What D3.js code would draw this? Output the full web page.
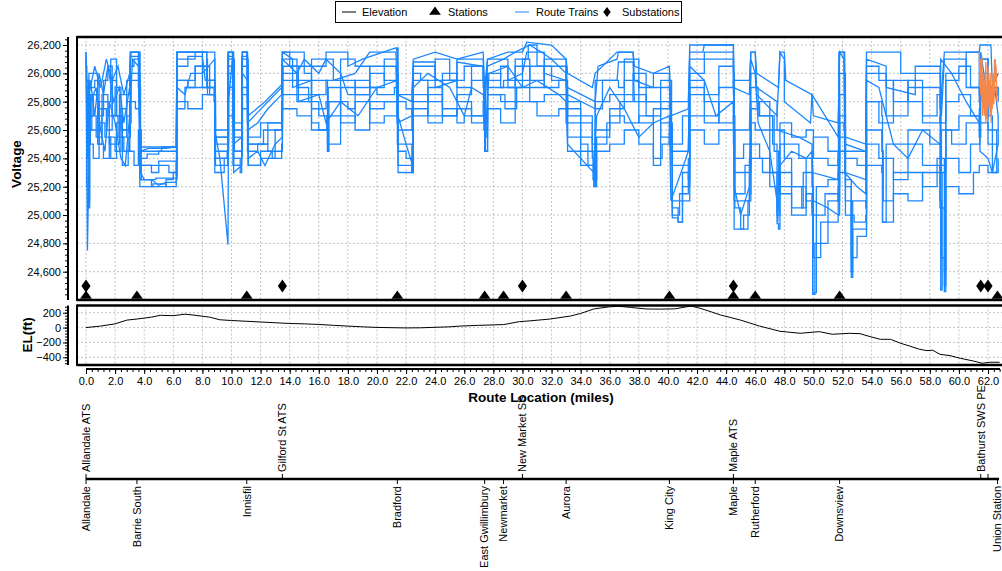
<!DOCTYPE html>
<html><head><meta charset="utf-8">
<script src="https://cdn.jsdelivr.net/npm/d3@7"></script>
<style>
html,body{margin:0;padding:0;background:#fff;}
svg{display:block;font-family:"Liberation Sans",Arial,sans-serif;}
</style></head><body>
<svg id="c" width="1002" height="571"></svg>
<script>
// ---------------- DATA ----------------
const voltTicks = [24600,24800,25000,25200,25400,25600,25800,26000,26200];
const elevTicks = [-400,-200,0,200];
const mileTicks = d3.range(0, 62.01, 2);

const stationNames = ["Allandale","Barrie South","Innisfil","Bradford","East Gwillimbury","Newmarket","Aurora","King City","Maple","Rutherford","Downsview","Union Station"];
const stationMiles = [0.0,3.5,11.05,21.4,27.4,28.7,33.0,40.1,44.5,46.0,51.8,62.65];

const substationNames = ["Allandale ATS","Gilford St ATS","New Market SS","Maple ATS","Bathurst SWS PE",""];
const substationMiles = [0.0,13.5,30.0,44.5,61.5,62.0];

const elevation = [[0,0],[1,20],[2,50],[2.8,100],[3.5,115],[4.5,140],[5.1,165],[6,160],[6.8,180],[7.3,170],[8.5,140],[9.2,105],[10,95],[11,85],[12,75],[13,65],[14,55],[15,50],[16,42],[17,30],[18,20],[19,10],[20,2],[22,-5],[23,-3],[25,10],[25.7,20],[27,30],[28.7,40],[29.8,80],[30.5,90],[31.9,115],[33.3,155],[34,190],[34.9,250],[36,280],[36.7,285],[37.5,270],[38.5,250],[39.5,248],[40.5,252],[41.3,280],[41.6,290],[42.2,260],[43,210],[43.6,170],[45,100],[46.3,20],[47.7,-50],[49.1,-77],[50.4,-55],[51.3,-90],[52.5,-77],[53.2,-82],[53.9,-122],[54.6,-158],[55.3,-158],[56,-212],[56.6,-248],[57.3,-292],[57.8,-310],[58.2,-305],[58.7,-360],[59.4,-378],[60.1,-413],[61,-450],[61.6,-480],[62.1,-467],[62.8,-467]];

const train1 = [[0,26150],[0.1,25800],[0.3,25950],[0.6,25700],[0.9,26000],[1.2,25850],[1.5,26050],[1.9,25800],[2.3,25900],[2.6,25650],[3.0,25900],[3.1,26150],[3.6,26150],[3.7,25450],[5.2,25450],[5.2,25480],[6.2,25480],[6.25,26150],[8.3,26150],[8.3,25950],[8.85,25950],[8.85,25550],[9.75,25550],[9.8,26150],[10.1,26150],[10.1,25600],[10.7,25600],[10.75,26150],[11.05,26150],[11.1,25650],[13.45,25900],[13.5,26150],[14.2,26100],[14.2,25900],[15.5,25950],[15.5,26100],[17.0,26100],[17.0,25950],[18.5,26000],[19.5,26150],[21.3,26150],[21.4,25850],[22.4,25800],[22.5,26050],[24.0,26050],[24.0,25900],[25.5,25950],[25.5,26100],[27.3,26100],[27.4,25800],[27.6,26050],[28.7,26100],[29.5,26150],[30.5,26200],[31.3,26150],[32.0,26100],[33.0,26000],[33.1,25900],[35.0,25800],[35.2,26050],[36.5,26100],[36.6,26150],[37.6,26150],[37.7,25950],[39.0,25900],[40.1,25900],[40.2,25700],[41.4,25750],[41.5,26150],[42.4,26150],[42.5,26200],[44.5,26200],[44.5,25900],[45.6,25850],[45.7,26150],[46.0,26150],[46.1,25850],[47.5,25700],[47.7,26150],[48.0,26100],[48.0,25800],[49.8,25650],[49.9,25850],[51.7,25550],[51.8,26150],[52.1,26100],[52.2,25500],[53.6,25450],[53.65,26100],[55.0,26050],[55.0,25900],[57.0,25850],[57.0,26050],[58.7,26050],[58.8,25700],[59.0,26100],[60.5,26100],[60.5,25900],[61.4,25900],[61.5,26150],[62.0,25800],[62.4,25950],[62.7,25700]];
const train2 = [[0,25900],[0.15,25100],[0.25,25700],[0.5,25850],[0.8,25500],[1.1,25750],[1.4,25600],[1.8,25950],[2.1,25700],[2.5,25550],[2.8,25800],[3.0,25450],[3.3,25350],[3.6,25600],[3.8,25250],[4.5,25200],[5.5,25250],[6.0,25300],[6.2,25350],[6.25,25950],[7.0,25900],[7.5,26050],[8.4,26050],[8.5,25850],[8.85,25800],[8.85,25400],[9.7,25450],[9.75,26100],[10.1,26100],[10.1,25350],[10.6,25400],[10.7,26100],[11.05,26100],[11.1,25450],[11.8,25500],[12.5,25450],[13.0,25600],[13.45,25650],[13.5,26000],[14.5,25900],[15.3,25800],[16.0,25700],[16.6,25450],[16.7,25800],[18.0,25750],[18.5,25900],[20.0,25850],[21.2,25900],[21.4,25500],[22.4,25300],[22.5,25800],[23.5,25850],[24.5,25700],[25.5,25850],[26.5,25950],[27.3,25900],[27.45,25450],[27.6,25900],[28.7,25950],[29.5,26050],[30.5,25950],[31.5,26050],[33.0,25900],[33.1,25700],[34.0,25550],[34.8,25400],[34.9,25200],[35.0,25600],[36.0,25750],[37.0,25850],[38.5,25700],[39.5,25800],[40.2,25650],[40.3,25050],[40.7,24950],[41.0,25300],[41.4,25250],[41.5,25900],[42.5,25800],[43.5,25650],[44.5,25700],[44.6,25150],[45.3,25350],[45.7,25650],[46.0,25600],[47.0,25300],[47.5,25000],[47.7,25500],[49.0,25400],[49.9,25300],[49.95,24450],[50.2,25200],[51.0,25250],[51.7,25300],[51.8,25700],[52.2,25200],[52.6,24560],[52.7,25100],[53.6,25050],[53.65,25800],[54.7,25700],[54.75,24950],[55.0,25500],[56.5,25600],[58.0,25500],[58.7,25400],[59.0,24460],[59.1,25600],[60.0,25700],[61.4,25550],[61.5,26100],[62.0,25700],[62.3,25300],[62.6,25600]];
const train3 = [[0,26100],[0.05,25400],[0.1,24750],[0.2,25350],[0.3,25800],[0.7,25900],[1.0,25600],[1.3,25450],[1.6,25800],[2.0,25650],[2.4,25400],[2.7,25350],[3.0,25700],[3.2,26100],[3.6,26050],[3.75,25300],[4.0,25250],[4.5,25250],[5.0,25210],[5.5,25230],[6.2,25230],[6.25,25900],[6.8,25850],[7.2,26000],[8.0,26000],[8.85,26100],[8.85,25600],[9.2,25400],[9.76,24790],[9.8,25800],[10.1,26150],[10.15,25300],[10.7,25350],[10.75,26000],[11.1,25950],[11.15,25400],[11.8,25450],[12.3,25350],[13.0,25500],[13.5,25550],[13.55,26050],[14.6,26050],[14.6,25800],[16.0,25850],[16.5,25650],[17.5,25800],[18.7,25700],[20.0,25900],[21.4,25950],[21.45,25700],[22.0,25500],[22.45,25350],[22.5,25900],[23.5,26000],[25.0,25900],[26.0,25700],[26.5,25900],[27.3,25850],[27.5,25650],[27.7,26000],[29.0,26050],[30.0,25900],[31.0,25950],[32.5,25850],[33.0,25800],[33.1,25500],[34.0,25400],[34.9,25300],[35.1,25700],[36.0,25900],[37.0,25750],[38.0,25550],[39.0,25650],[40.1,25700],[40.2,25100],[40.9,25300],[41.4,25450],[41.5,26050],[42.5,25950],[43.3,25700],[44.5,25800],[44.55,25200],[45.0,25000],[45.6,25200],[45.7,26100],[46.0,26000],[46.2,25650],[47.0,25450],[47.5,25100],[47.55,24950],[47.7,25350],[48.5,25450],[49.5,25400],[49.9,25450],[50.0,25100],[51.0,25050],[51.7,25000],[51.75,26150],[52.1,26150],[52.15,25300],[53.0,25200],[53.6,25150],[53.65,25950],[54.5,25900],[55.5,25500],[56.5,25400],[57.5,25600],[58.7,25500],[58.75,26100],[59.5,26000],[60.5,25800],[61.4,25650],[61.45,25450],[62.0,25400],[62.3,25300],[62.7,25500]];
const train4 = [[0,25950],[0.2,25600],[0.4,25850],[0.8,25750],[1.2,25950],[1.5,26050],[1.8,25700],[2.2,25550],[2.6,25450],[2.9,25550],[3.05,26150],[3.5,26150],[3.7,25400],[4.2,25430],[5.0,25450],[6.2,25450],[6.25,26100],[7.5,26150],[8.3,26100],[8.35,25850],[8.85,25850],[8.9,25350],[9.7,25350],[9.75,26150],[10.15,26100],[10.2,25450],[10.7,25500],[10.75,26150],[11.1,26100],[11.15,25550],[12.0,25650],[13.45,25800],[13.5,26150],[14.0,26050],[15.0,26000],[15.5,25850],[16.5,25950],[17.5,26100],[18.5,26050],[19.5,25900],[20.5,26100],[21.3,26100],[21.4,26180],[21.45,25800],[22.0,25750],[22.4,25600],[22.5,26000],[23.0,25950],[24.0,26100],[25.0,25950],[26.0,26050],[27.3,25950],[27.35,25600],[27.6,25950],[28.5,26050],[29.0,25900],[30.0,26100],[30.4,26200],[31.0,26050],[32.0,25950],[33.0,26050],[33.05,25800],[34.0,25700],[34.8,25500],[35.0,25750],[35.5,25950],[36.6,25900],[37.0,26100],[38.0,25900],[39.0,26000],[40.1,25950],[40.25,25500],[41.0,25700],[41.45,25600],[41.5,26100],[43.0,26100],[44.5,26000],[44.55,25400],[45.2,25500],[45.7,25750],[46.2,25800],[47.0,25600],[48.0,25400],[48.5,25200],[49.2,25050],[49.5,25400],[50.0,25550],[51.0,25450],[51.7,25350],[51.8,26000],[52.2,25400],[53.0,25350],[53.6,25300],[53.65,26050],[54.5,25950],[55.5,25800],[56.5,25950],[57.5,25700],[58.5,25850],[58.7,25750],[58.75,24470],[58.85,25300],[59.1,25950],[60.0,26050],[60.8,25900],[61.4,25800],[61.45,26100],[62.0,25900],[62.7,25800]];
const train5 = [[0,26050],[0.05,25200],[0.15,25050],[0.25,25900],[0.6,25950],[0.9,25500],[1.2,25400],[1.6,25550],[2.0,25450],[2.4,25750],[2.8,25950],[3.0,26050],[3.3,26100],[3.65,26000],[3.7,25350],[4.5,25300],[5.0,25350],[5.7,25300],[6.2,25280],[6.25,25750],[6.8,25900],[7.5,25900],[8.5,25950],[8.85,25900],[8.85,25450],[9.75,25500],[9.8,26000],[10.1,25950],[10.15,25450],[10.7,25450],[10.75,25900],[11.1,25800],[11.15,25500],[12.5,25650],[13.45,25750],[13.5,25950],[14.5,25850],[15.5,25650],[16.0,25600],[16.55,25700],[17.5,25900],[18.5,25950],[19.5,25750],[20.5,25800],[21.4,25700],[21.45,25450],[22.0,25400],[22.45,25500],[22.5,25850],[23.5,25700],[24.5,25950],[25.5,25800],[26.5,25700],[27.35,25650],[27.6,25850],[28.5,25800],[29.5,25950],[30.5,26050],[31.5,25900],[32.5,25950],[33.0,25750],[33.1,25550],[34.0,25450],[34.85,25250],[35.0,25500],[35.8,25650],[36.7,25800],[37.6,26000],[38.5,25800],[39.5,25550],[40.1,25500],[40.3,25000],[40.8,25150],[41.4,25400],[41.5,25850],[42.5,25700],[43.5,25900],[44.5,25950],[44.55,24900],[45.2,25000],[45.6,25300],[45.7,25800],[46.3,25700],[47.2,25500],[47.5,25300],[47.7,25200],[48.5,25050],[49.3,25300],[49.9,25200],[50.0,25000],[50.8,25150],[51.7,25100],[51.8,25650],[52.1,25600],[52.2,25000],[52.8,24950],[53.6,25000],[53.65,25600],[54.7,25450],[54.8,25100],[55.5,25300],[56.5,25500],[57.5,25350],[58.7,25300],[58.8,25600],[59.5,25500],[60.5,25650],[61.4,25700],[61.45,25900],[62.0,25600],[62.7,25700]];
const train6 = [[0,25850],[0.3,25850],[0.3,25600],[0.9,25600],[0.9,25800],[1.6,25800],[1.6,25500],[2.3,25500],[2.3,25850],[3.0,25850],[3.05,26120],[3.6,26120],[3.7,25450],[4.3,25470],[5.5,25470],[6.2,25480],[6.25,26050],[7.0,26050],[7.0,26120],[8.0,26120],[8.2,25950],[8.85,25950],[8.9,25500],[9.75,25500],[9.78,26120],[10.12,26120],[10.15,25500],[10.7,25550],[10.72,26120],[11.08,26120],[11.12,25600],[11.8,25650],[12.5,25750],[13.45,25850],[13.5,26100],[14.5,26000],[15.0,26100],[16.0,26000],[16.5,26100],[17.5,26000],[18.0,25850],[19.5,25850],[19.5,26050],[21.3,26050],[21.4,25650],[22.4,25700],[22.5,26080],[24.0,26080],[24.0,25950],[25.5,25950],[25.5,26080],[27.3,26050],[27.4,25750],[27.6,26100],[29.0,26100],[29.0,25950],[30.0,26000],[30.3,26150],[31.5,26150],[31.5,26000],[33.0,25950],[33.1,25850],[35.0,25750],[35.0,25950],[36.5,25950],[36.6,26080],[37.6,26080],[37.7,25800],[39.5,25800],[39.5,25950],[40.1,25950],[40.2,25450],[41.4,25450],[41.5,26000],[42.5,26000],[42.5,26150],[44.5,26150],[44.55,25600],[45.6,25600],[45.7,26000],[46.0,26000],[46.1,25900],[47.5,25800],[47.5,25600],[49.0,25550],[49.9,25500],[49.95,25300],[51.7,25250],[51.75,25550],[52.2,25550],[52.2,25300],[53.6,25250],[53.65,26000],[55.0,26000],[55.0,25700],[56.5,25700],[56.5,25900],[58.7,25900],[58.75,25650],[59.1,25650],[59.1,26000],[60.5,26000],[60.5,26150],[61.4,26150],[61.4,25850],[62.7,25850]];
const train7 = [[0,25800],[0.1,25600],[0.2,26000],[0.5,26000],[0.8,25700],[1.2,25800],[1.7,26100],[2.0,26100],[2.1,25700],[2.5,25600],[3.0,25650],[3.1,25950],[3.5,25950],[3.7,25250],[4.8,25260],[6.2,25260],[6.25,26150],[8.0,26150],[8.0,25900],[8.8,25800],[8.85,25300],[9.5,25400],[9.75,25350],[9.78,25900],[10.1,26100],[10.15,25350],[10.6,25300],[10.7,25850],[11.1,25700],[11.15,25350],[12.0,25450],[12.8,25400],[13.45,25500],[13.5,25850],[14.5,25800],[15.5,25950],[16.6,25450],[16.65,25900],[17.5,25650],[18.5,25800],[19.5,25650],[20.5,25700],[21.4,25800],[21.45,25300],[22.4,25400],[22.5,25700],[23.5,25900],[24.5,25750],[25.5,25650],[26.0,25700],[27.3,25800],[27.4,25450],[27.6,25850],[28.8,25750],[29.6,25900],[30.5,25800],[31.5,25850],[33.0,25850],[33.1,25650],[34.0,25500],[34.5,25350],[35.0,25200],[35.1,25550],[36.0,25700],[37.0,25650],[38.0,25700],[39.0,25400],[39.6,25500],[40.1,25600],[40.3,24980],[40.7,24950],[41.0,25200],[41.4,25200],[41.5,25700],[42.5,25650],[43.5,25800],[44.5,25600],[44.6,25050],[45.0,24900],[45.5,25100],[45.7,25500],[46.3,25400],[47.0,25200],[47.5,24940],[47.6,24900],[47.7,25300],[48.5,25200],[49.5,25100],[49.9,25050],[49.95,24440],[50.1,24800],[51.0,25100],[51.7,25200],[51.8,25450],[52.2,25250],[52.6,24600],[52.7,24900],[53.6,24900],[53.65,25500],[54.5,25400],[55.5,25250],[56.5,25300],[57.5,25200],[58.5,25400],[58.7,25050],[59.0,24600],[59.1,25400],[60.0,25300],[60.8,25500],[61.4,25500],[61.45,25650],[62.0,25500],[62.7,25600]];
const train8 = [[0,26150],[0.05,25700],[0.2,25850],[0.6,26050],[1.0,25900],[1.4,26100],[1.8,25950],[2.2,26050],[2.6,25850],[3.0,26000],[3.05,26150],[3.7,26150],[3.75,25480],[6.2,25480],[6.25,26150],[8.85,26150],[8.9,25600],[9.75,25600],[9.8,26150],[10.1,26150],[10.15,25650],[10.7,25650],[10.75,26150],[11.1,26150],[11.15,25700],[12.3,25800],[13.45,25920],[13.5,26150],[15.0,26150],[15.0,26050],[16.5,26050],[16.5,26150],[18.0,26150],[18.0,26050],[19.0,26100],[21.3,26180],[21.4,26150],[21.45,25850],[22.4,25850],[22.5,26100],[24.0,26150],[25.5,26100],[27.3,26150],[27.4,25900],[27.6,26100],[29.0,26150],[30.0,26150],[30.3,26220],[32.0,26200],[33.0,26100],[33.1,26000],[34.8,25900],[35.0,26000],[36.5,26150],[37.6,26150],[37.7,26050],[39.0,26000],[40.1,26050],[40.2,25800],[41.4,25800],[41.5,26200],[44.5,26200],[44.55,25950],[45.6,25950],[45.7,26150],[46.0,26150],[46.1,26000],[47.6,25900],[47.7,26150],[48.0,26150],[48.1,25950],[49.9,25850],[50.0,25700],[51.7,25650],[51.8,26150],[52.15,26150],[52.2,25550],[53.6,25500],[53.65,26150],[56.0,26150],[56.0,26000],[58.7,26000],[58.75,25800],[59.0,26150],[61.4,26150],[61.45,26200],[62.2,26200],[62.3,25900],[62.7,26000]];
const train9 = [[0,25700],[0.1,25400],[0.2,25500],[0.5,25400],[0.9,25650],[1.3,25550],[1.7,25400],[2.1,25650],[2.5,25350],[2.9,25450],[3.0,25800],[3.4,25750],[3.7,25200],[4.6,25220],[5.5,25200],[6.2,25250],[6.25,25800],[7.0,25750],[8.0,25850],[8.85,25800],[8.9,25400],[9.75,25400],[9.78,25700],[10.1,25700],[10.15,25400],[10.7,25420],[10.75,25750],[11.1,25650],[11.15,25350],[12.0,25400],[13.0,25450],[13.45,25450],[13.5,25750],[14.5,25700],[15.5,25600],[16.6,25500],[17.5,25700],[18.5,25600],[19.5,25800],[21.4,25650],[21.45,25350],[22.45,25300],[22.5,25750],[23.5,25650],[24.5,25700],[25.5,25750],[26.5,25650],[27.35,25700],[27.5,25550],[27.6,25750],[28.5,25650],[29.5,25800],[31.0,25700],[32.5,25750],[33.0,25650],[33.1,25450],[34.0,25350],[34.9,25250],[35.1,25450],[36.0,25500],[37.0,25600],[38.0,25500],[39.0,25350],[39.5,25650],[40.1,25500],[40.3,25100],[41.4,25100],[41.5,25600],[42.5,25500],[43.5,25600],[44.5,25500],[44.55,25100],[45.6,25150],[45.7,25400],[46.5,25300],[47.5,25150],[48.5,25000],[49.5,25150],[49.9,25000],[50.0,24700],[50.5,24950],[51.7,25000],[51.8,25300],[52.2,25100],[52.6,24700],[53.0,24850],[53.6,24850],[53.65,25350],[54.7,25300],[54.75,24950],[55.5,25150],[56.5,25100],[57.5,25300],[58.7,25100],[58.8,24700],[59.0,24500],[59.1,25200],[60.0,25150],[61.0,25300],[61.4,25350],[62.0,25300],[62.7,25400]];
const train10 = [[0,25950],[0.15,25500],[0.3,25700],[0.7,25550],[1.1,25850],[1.5,25700],[2.0,25900],[2.4,25600],[2.8,25700],[3.05,26000],[3.6,25900],[3.75,25350],[5.0,25380],[6.2,25350],[6.25,25950],[7.5,26050],[8.3,25900],[8.85,25700],[8.9,25550],[9.75,25450],[9.8,26050],[10.15,26050],[10.2,25550],[10.7,25600],[10.75,26050],[11.1,26000],[11.15,25500],[12.2,25600],[13.45,25650],[13.5,26100],[14.5,25950],[15.5,25750],[16.5,25800],[17.5,25950],[18.5,25850],[19.5,26000],[20.5,25950],[21.4,26000],[21.45,25600],[22.45,25550],[22.5,25950],[23.5,25800],[24.5,26000],[25.5,25900],[26.5,26050],[27.3,25950],[27.45,25700],[27.6,26000],[28.5,25900],[29.5,26100],[30.5,25900],[31.5,26100],[33.0,25950],[33.1,25750],[34.0,25650],[34.8,25450],[35.0,25800],[36.0,25850],[37.0,25950],[38.0,25650],[39.0,25750],[40.1,25800],[40.2,25350],[41.4,25350],[41.5,25950],[42.5,25850],[43.5,26050],[44.5,25850],[44.55,25300],[45.6,25400],[45.7,25900],[46.2,25700],[47.3,25450],[47.6,25150],[47.7,25650],[48.5,25550],[49.5,25600],[49.9,25600],[50.0,25400],[51.0,25350],[51.7,25400],[51.8,25850],[52.2,25450],[53.6,25400],[53.65,25800],[54.5,25650],[55.5,25950],[56.5,25800],[57.5,25650],[58.7,25700],[58.75,25350],[59.1,25800],[60.0,25850],[60.8,25700],[61.4,25750],[61.45,26000],[62.0,25850],[62.7,25900]];
const trainOrangeA = [[61.4,26150],[61.45,25900],[61.5,26100],[61.55,25800],[61.6,26000],[61.65,25750],[61.7,25950],[61.75,25700],[61.8,25900],[61.85,25650],[61.9,25850],[61.95,25750],[62.0,26050],[62.05,25800],[62.1,25950],[62.15,25700],[62.2,25850],[62.25,25900],[62.3,25750],[62.35,26000],[62.4,25850],[62.45,26100],[62.5,25950],[62.55,26050],[62.6,25800]];
const trainOrangeB = [[61.45,26050],[61.5,25850],[61.58,26120],[61.63,25700],[61.7,26000],[61.78,25800],[61.85,26080],[61.92,25680],[62.0,25900],[62.08,25750],[62.15,26000],[62.22,25650],[62.3,25950],[62.4,25780],[62.5,26100],[62.6,25900]];

const blueTrains = [train1,train2,train3,train4,train5,train6,train7,train8,train9,train10];
const orangeTrains = [trainOrangeA, trainOrangeB];

// ---------------- CHART ----------------
const svg = d3.select("#c");
const BLUE = "#1a87ff", ORANGE = "#f5874a", GRID = "#c4c4c4";
const L = 77, R = 1002;
const topY0 = 37, topY1 = 300, botY0 = 305.5, botY1 = 365;
const steppedIdx = new Set([1,3,4,6,8,9]);

const x = d3.scaleLinear().domain([0, 62]).range([86, 988]);
const yV = d3.scaleLinear().domain([24600, 26200]).range([271.7, 45]);
const yE = d3.scaleLinear().domain([-400, 200]).range([357.3, 312.7]);

// grid - top
const gTop = svg.append("g");
gTop.selectAll("line.v").data(mileTicks).join("line")
  .attr("x1", d => x(d)).attr("x2", d => x(d)).attr("y1", topY0).attr("y2", topY1)
  .attr("stroke", GRID).attr("stroke-dasharray", "2,2");
gTop.selectAll("line.h").data(voltTicks).join("line")
  .attr("x1", L).attr("x2", R).attr("y1", d => yV(d)).attr("y2", d => yV(d))
  .attr("stroke", GRID).attr("stroke-dasharray", "2,2");
// grid - bottom
const gBot = svg.append("g");
gBot.selectAll("line.v").data(mileTicks).join("line")
  .attr("x1", d => x(d)).attr("x2", d => x(d)).attr("y1", botY0).attr("y2", botY1)
  .attr("stroke", GRID).attr("stroke-dasharray", "2,2");
gBot.selectAll("line.h").data(elevTicks).join("line")
  .attr("x1", L).attr("x2", R).attr("y1", d => yE(d)).attr("y2", d => yE(d))
  .attr("stroke", GRID).attr("stroke-dasharray", "2,2");

// clip
svg.append("clipPath").attr("id", "clipTop").append("rect")
  .attr("x", L).attr("y", topY0).attr("width", R - L).attr("height", topY1 - topY0);

const vLine = d3.line().x(d => x(d[0])).y(d => yV(d[1]));
const vStep = d3.line().x(d => x(d[0])).y(d => yV(d[1])).curve(d3.curveStepAfter);
const gTr = svg.append("g").attr("clip-path", "url(#clipTop)");
gTr.selectAll("path.b").data(blueTrains).join("path")
  .attr("d", (d, i) => steppedIdx.has(i) ? vStep(d) : vLine(d))
  .attr("fill", "none").attr("stroke", BLUE)
  .attr("stroke-width", 1.3).attr("stroke-linejoin", "miter");
gTr.selectAll("path.o").data(orangeTrains).join("path")
  .attr("d", vLine).attr("fill", "none").attr("stroke", ORANGE).attr("stroke-width", 1.3);

// elevation line
const eLine = d3.line().x(d => x(d[0])).y(d => yE(d[1]));
svg.append("path").datum(elevation).attr("d", eLine)
  .attr("fill", "none").attr("stroke", "#000").attr("stroke-width", 1);

// markers: stations (triangles) & substations (diamonds)
const tri = d3.symbol().type(d3.symbolTriangle).size(50);
const dia = d3.symbol().type(d3.symbolDiamond).size(60);
svg.append("g").selectAll("path").data(substationMiles).join("path")
  .attr("d", dia).attr("transform", d => `translate(${x(d)},286) scale(1.1,0.9)`).attr("fill", "#000");
svg.append("g").selectAll("path").data(stationMiles).join("path")
  .attr("d", tri).attr("transform", d => `translate(${x(d)},296) scale(1.1,0.9)`).attr("fill", "#000");

// frames
const frame = svg.append("g").attr("stroke", "#000").attr("fill", "none");
frame.append("line").attr("x1", L).attr("x2", R).attr("y1", topY0).attr("y2", topY0).attr("stroke-width", 2.5);
frame.append("line").attr("x1", L).attr("x2", R).attr("y1", topY1).attr("y2", topY1).attr("stroke-width", 2.5);
frame.append("line").attr("x1", L).attr("x2", R).attr("y1", botY0).attr("y2", botY0).attr("stroke-width", 2.5);
frame.append("line").attr("x1", L).attr("x2", R).attr("y1", botY1).attr("y2", botY1).attr("stroke-width", 2.5);
frame.append("line").attr("x1", L).attr("x2", L).attr("y1", topY0 - 1).attr("y2", topY1 + 1).attr("stroke-width", 2);
frame.append("line").attr("x1", L).attr("x2", L).attr("y1", botY0 - 1).attr("y2", botY1 + 1).attr("stroke-width", 2);

// Y axes
function styleAxis(g) {
  g.select(".domain").remove();
  g.selectAll("text").attr("font-size", 11).attr("fill", "#000").attr("font-family", "Liberation Sans, Arial, sans-serif");
  g.selectAll("line").attr("stroke", "#000");
}
const minorV = d3.range(24400, 26260, 40).filter(v => yV(v) >= topY0 && yV(v) <= topY1);
svg.append("g").attr("transform", "translate(68,0)")
  .call(d3.axisLeft(yV).tickValues(minorV).tickSize(3).tickFormat(""))
  .call(styleAxis);
svg.append("g").attr("transform", "translate(68,0)")
  .call(d3.axisLeft(yV).tickValues(voltTicks).tickSize(5).tickPadding(2).tickFormat(d3.format(",")))
  .call(styleAxis);
svg.append("line").attr("x1", 68).attr("x2", 68).attr("y1", topY0).attr("y2", topY1).attr("stroke", "#000").attr("stroke-width", 2);

const minorE = d3.range(-520, 320, 40).filter(v => yE(v) >= botY0 && yE(v) <= botY1);
svg.append("g").attr("transform", "translate(68,0)")
  .call(d3.axisLeft(yE).tickValues(minorE).tickSize(3).tickFormat(""))
  .call(styleAxis);
svg.append("g").attr("transform", "translate(68,0)")
  .call(d3.axisLeft(yE).tickValues(elevTicks).tickSize(5).tickPadding(2).tickFormat(d3.format("d")))
  .call(styleAxis);
svg.append("line").attr("x1", 68).attr("x2", 68).attr("y1", botY0).attr("y2", botY1).attr("stroke", "#000").attr("stroke-width", 2);

// X axis
const minorM = d3.range(0, 62.81, 0.4);
svg.append("g").attr("transform", "translate(0,369)")
  .call(d3.axisBottom(x).tickValues(minorM).tickSize(3).tickFormat(""))
  .call(styleAxis);
svg.append("g").attr("transform", "translate(0,369)")
  .call(d3.axisBottom(x).tickValues(mileTicks).tickSize(5).tickPadding(3).tickFormat(d3.format(".1f")))
  .call(styleAxis);
svg.append("line").attr("x1", 86).attr("x2", 1000).attr("y1", 369).attr("y2", 369).attr("stroke", "#000").attr("stroke-width", 2);

// Station / substation label axis
const sY = 479;
svg.append("line").attr("x1", 86).attr("x2", 999).attr("y1", sY).attr("y2", sY).attr("stroke", "#000").attr("stroke-width", 2.5);
const gs = svg.append("g");
gs.selectAll("line.st").data(stationMiles).join("line")
  .attr("x1", d => x(d)).attr("x2", d => x(d)).attr("y1", sY).attr("y2", sY + 5).attr("stroke", "#000");
gs.selectAll("text.st").data(stationNames).join("text")
  .attr("transform", (d, i) => `translate(${x(stationMiles[i])},${sY + 7}) rotate(-90)`)
  .attr("text-anchor", "end").attr("dy", "0.35em").attr("font-size", 11).text(d => d);
gs.selectAll("line.ss").data(substationMiles).join("line")
  .attr("x1", d => x(d)).attr("x2", d => x(d)).attr("y1", sY).attr("y2", sY - 5).attr("stroke", "#000");
gs.selectAll("text.ss").data(substationNames).join("text")
  .attr("transform", (d, i) => `translate(${x(substationMiles[i])},${sY - 7}) rotate(-90)`)
  .attr("text-anchor", "start").attr("dy", "0.35em").attr("font-size", 11).text(d => d);

// axis titles
svg.append("text").attr("transform", "translate(541,402)").attr("text-anchor", "middle")
  .attr("font-size", 13.5).attr("font-weight", "bold").text("Route Location (miles)");
svg.append("text").attr("transform", "translate(21,164) rotate(-90)").attr("text-anchor", "middle")
  .attr("font-size", 13.5).attr("font-weight", "bold").text("Voltage");
svg.append("text").attr("transform", "translate(32,335) rotate(-90)").attr("text-anchor", "middle")
  .attr("font-size", 13.5).attr("font-weight", "bold").text("EL(ft)");

// legend
const lg = svg.append("g");
lg.append("rect").attr("x", 335.5).attr("y", 1.5).attr("width", 346).attr("height", 21)
  .attr("fill", "#fff").attr("stroke", "#000");
lg.append("line").attr("x1", 342).attr("x2", 356).attr("y1", 12).attr("y2", 12).attr("stroke", "#000");
lg.append("text").attr("x", 362).attr("y", 16).attr("font-size", 11).text("Elevation");
lg.append("path").attr("d", tri).attr("transform", "translate(435,12) scale(1.1,0.9)").attr("fill", "#000");
lg.append("text").attr("x", 448).attr("y", 16).attr("font-size", 11).text("Stations");
lg.append("line").attr("x1", 515).attr("x2", 529).attr("y1", 12).attr("y2", 12).attr("stroke", BLUE);
lg.append("text").attr("x", 536).attr("y", 16).attr("font-size", 11).text("Route Trains");
lg.append("path").attr("d", dia).attr("transform", "translate(607,12) scale(0.9,0.7)").attr("fill", "#000");
lg.append("text").attr("x", 622).attr("y", 16).attr("font-size", 11).text("Substations");
</script>
</body></html>
